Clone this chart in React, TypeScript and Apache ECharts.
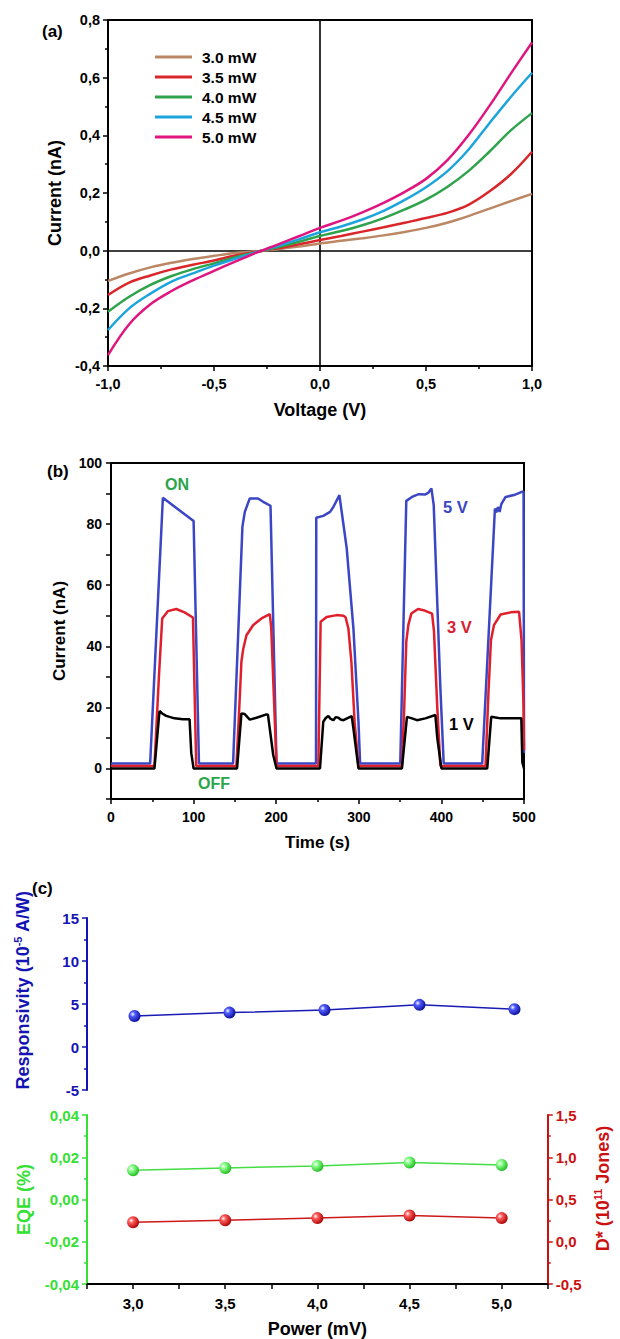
import React, { useEffect, useRef } from "react";
import * as echarts from "echarts";

const FONT = "Liberation Sans, Arial, Helvetica, sans-serif";

// ---------- Panel (a): I-V curves ----------
const voltage = [-1.0, -0.9, -0.8, -0.7, -0.6, -0.5, -0.4, -0.3, -0.2, -0.1, 0.0, 0.1, 0.2, 0.3, 0.4, 0.5, 0.6, 0.7, 0.8, 0.9, 1.0];
const ivNames = ["3.0 mW", "3.5 mW", "4.0 mW", "4.5 mW", "5.0 mW"];
const ivColors = ["#bb8765", "#d9262b", "#2fa24c", "#1ea4dc", "#e0157f"];
const iv30 = [-0.105, -0.079, -0.058, -0.042, -0.029, -0.018, -0.008, -0.002, 0.005, 0.014, 0.025, 0.034, 0.043, 0.053, 0.065, 0.079, 0.097, 0.12, 0.146, 0.172, 0.197];
const iv35 = [-0.154, -0.111, -0.086, -0.065, -0.049, -0.034, -0.017, -0.004, 0.008, 0.022, 0.037, 0.051, 0.066, 0.081, 0.097, 0.113, 0.131, 0.159, 0.206, 0.265, 0.343];
const iv40 = [-0.212, -0.16, -0.119, -0.088, -0.064, -0.044, -0.023, -0.005, 0.012, 0.031, 0.051, 0.068, 0.088, 0.113, 0.143, 0.177, 0.221, 0.276, 0.344, 0.417, 0.477];
const iv45 = [-0.275, -0.2, -0.149, -0.107, -0.079, -0.052, -0.028, -0.005, 0.016, 0.039, 0.064, 0.084, 0.108, 0.138, 0.176, 0.22, 0.275, 0.35, 0.443, 0.533, 0.617];
const iv50 = [-0.362, -0.255, -0.186, -0.14, -0.103, -0.07, -0.038, -0.007, 0.021, 0.05, 0.079, 0.104, 0.133, 0.166, 0.204, 0.249, 0.313, 0.4, 0.503, 0.614, 0.722];
const ivSeries = [iv30, iv35, iv40, iv45, iv50];

// ---------- Panel (b): transient response [time s, current nA] ----------
const curve5V = [
  [0, 1.6], [47.4, 1.6], [62.8, 88.6], [100, 81.0], [106.5, 1.6],
  [147.8, 1.6], [159.1, 79.1], [162, 84], [168, 88.4], [178, 88.4], [184.2, 87.3], [193.1, 86.0], [200.4, 1.6],
  [248.2, 1.6], [248.5, 82.1], [257, 82.7], [265.2, 84.0], [269.2, 85.6], [276.5, 89.5], [285.4, 72.0], [293.5, 45.8], [299.6, 15.3], [301.6, 1.6],
  [350.2, 1.6], [357.5, 87.6], [364.4, 88.9], [372.5, 89.8], [380.6, 89.7], [384, 90.2], [387.9, 91.7], [390.7, 86.2], [398.8, 26], [402.8, 1.6],
  [449.4, 1.6], [464.8, 85.1], [466.5, 83.8], [468.5, 85.6], [470.5, 84.0], [472.5, 86.5], [477.7, 88.9], [487.9, 89.5], [498, 90.6], [499.5, 90.6], [500, 5]
];
const curve3V = [
  [0, 0.8], [52.6, 0.8], [58, 30], [62, 49.1], [68.8, 51.5], [79, 52.2], [89, 51.1], [99.2, 49.4], [103.2, 0.8],
  [151.8, 0.8], [155, 18], [157.9, 35], [160, 39], [164, 43.6], [172, 46.9], [182.2, 49.1], [192.3, 50.5], [194, 46], [200.4, 0.8],
  [251, 0.8], [253.8, 48.0], [261.1, 49.6], [273.3, 50.2], [281.4, 50.0], [284, 49.5], [287.4, 45.8], [291, 35], [295, 15], [299.6, 0.8],
  [352.2, 0.8], [355, 20], [357.5, 41.5], [360, 47], [363.6, 50.7], [371.7, 52.2], [379.8, 51.7], [388.7, 50.7], [391, 45], [395, 20], [398.8, 0.8],
  [453.4, 0.8], [457, 25], [460, 42], [463.6, 46.9], [471.7, 50.4], [483.8, 51.1], [494, 51.3], [497, 42], [499.5, 20], [500, 6]
];
const curve1V = [
  [0, 0], [52.6, 0], [58.7, 18.8], [62, 18], [66.8, 17.2], [76.9, 16.4], [87, 16.1], [95.1, 16.1], [97.2, 5], [100, 0],
  [152.6, 0], [157.9, 18.0], [161.9, 17.8], [168, 16.0], [176.1, 16.6], [188.3, 17.7], [190, 17.6], [196.4, 4.4], [200.4, 0],
  [253, 0], [257, 15.3], [260, 16.5], [263.2, 17.2], [266, 16.2], [269.2, 15.8], [272, 16.8], [275.3, 16.6], [278, 16], [281.4, 15.8], [291.5, 17.1], [294, 12], [299.6, 0],
  [352.2, 0], [358.3, 16.9], [364.4, 16.4], [370.4, 15.8], [380.6, 16.4], [392.7, 17.5], [395, 10], [400, 0],
  [455.5, 0], [460.3, 16.9], [465.6, 16.7], [471.7, 16.4], [484, 16.4], [496.8, 16.4], [498, 2], [500, 0]
];

// ---------- Panel (c): figures of merit ----------
const power = [3.0, 3.5, 4.0, 4.5, 5.0];
const responsivity = [3.6, 4.0, 4.3, 4.9, 4.4];
const eqe = [0.0138, 0.0149, 0.0159, 0.0175, 0.0163];
const detectivity = [0.23, 0.254, 0.28, 0.31, 0.28];

const comma = (d: number) => (v: number) => v.toFixed(d).replace(".", ",");

function baseAxis(color: string, tick = 14, title = 17) {
  return {
    axisLine: { show: true, onZero: false, lineStyle: { color, width: 2 } },
    axisTick: { show: true, length: 5, lineStyle: { color, width: 1.5 } },
    minorTick: { show: true, splitNumber: 2, length: 3, lineStyle: { color, width: 1.5 } },
    splitLine: { show: false },
    minorSplitLine: { show: false },
    axisLabel: { fontFamily: FONT, fontWeight: "bold", fontSize: tick, color, margin: 8 },
    nameLocation: "middle",
    nameTextStyle: { fontFamily: FONT, fontWeight: "bold", fontSize: title, color },
  } as any;
}

function sphere(light: string, dark: string) {
  return new echarts.graphic.RadialGradient(0.35, 0.35, 0.7, [
    { offset: 0, color: "#ffffff" },
    { offset: 0.3, color: light },
    { offset: 1, color: dark },
  ]);
}

export default function App() {
  const ref = useRef<HTMLDivElement>(null);
  useEffect(() => {
    if (!ref.current) return;
    const chart = echarts.init(ref.current, null, { renderer: "svg" });

    const lbl = (text: string, x: number, y: number, fill: string, size = 16) => ({
      type: "text",
      x,
      y,
      style: { text, fill, font: `bold ${size}px ${FONT}`, align: "left", verticalAlign: "middle" },
    });

    const A = baseAxis("#000", 14.5, 18);
    const B = baseAxis("#000", 14, 17);
    const C = baseAxis("#000", 15, 18);
    const CB = baseAxis("#1414b4", 15, 18);
    const CG = baseAxis("#33e033", 15, 18);
    const CR = baseAxis("#cc1111", 15, 18);

    const option: any = {
      animation: false,
      backgroundColor: "#ffffff",
      grid: [
        { left: 108, top: 20, width: 424, height: 346, show: true, borderColor: "#000", borderWidth: 2 },
        { left: 111, top: 463, width: 413, height: 336, show: true, borderColor: "#000", borderWidth: 2 },
        { left: 87, top: 918, width: 475, height: 172 },
        { left: 87, top: 1115, width: 475, height: 171 },
      ],
      legend: {
        data: ivNames,
        orient: "vertical",
        left: 150,
        top: 44,
        itemWidth: 37,
        itemHeight: 3,
        itemGap: 4,
        icon: "rect",
        textStyle: { fontFamily: FONT, fontWeight: "bold", fontSize: 15.5, color: "#000", padding: [0, 0, 0, 5] },
      },
      xAxis: [
        {
          ...A, gridIndex: 0, type: "value", min: -1, max: 1, interval: 0.5,
          axisLabel: { ...A.axisLabel, margin: 10, formatter: comma(1) },
          name: "Voltage (V)", nameGap: 35,
        },
        {
          ...B, gridIndex: 1, type: "value", min: 0, max: 500, interval: 100,
          axisLabel: { ...B.axisLabel, margin: 11 },
          name: "Time (s)", nameGap: 35,
        },
        { gridIndex: 2, type: "value", min: 2.75, max: 5.25, show: false },
        {
          ...C, gridIndex: 3, type: "value", min: 2.75, max: 5.25, interval: 0.25,
          minorTick: { show: false },
          axisLabel: {
            ...C.axisLabel, margin: 12,
            formatter: (v: number) => (Math.abs(v * 2 - Math.round(v * 2)) < 1e-6 ? comma(1)(v) : ""),
          },
          name: "Power (mV)", nameGap: 36,
        },
      ],
      yAxis: [
        {
          ...A, gridIndex: 0, type: "value", min: -0.4, max: 0.8, interval: 0.2,
          axisLabel: { ...A.axisLabel, formatter: comma(1) },
          name: "Current (nA)", nameGap: 43, nameRotate: 90,
        },
        {
          ...B, gridIndex: 1, type: "value", min: -10, max: 100, interval: 10,
          minorTick: { show: false },
          axisLabel: { ...B.axisLabel, margin: 9, formatter: (v: number) => (Math.round(v) % 20 === 0 ? String(Math.round(v)) : "") },
          name: "Current (nA)", nameGap: 41, nameRotate: 90,
        },
        {
          ...CB, gridIndex: 2, type: "value", min: -5, max: 15, interval: 5,
          name: "Responsivity (10{sup|-5} A/W)", nameGap: 54, nameRotate: 90,
          nameTextStyle: {
            ...CB.nameTextStyle, padding: [0, 0, 0, 28],
            rich: { sup: { fontFamily: FONT, fontWeight: "bold", fontSize: 11, color: "#1414b4", verticalAlign: "bottom", padding: [0, 0, 10, 0] } },
          },
        },
        {
          ...CG, gridIndex: 3, type: "value", min: -0.04, max: 0.04, interval: 0.02,
          axisLabel: { ...CG.axisLabel, formatter: comma(2) },
          name: "EQE (%)", nameGap: 54, nameRotate: 90,
        },
        {
          ...CR, gridIndex: 3, type: "value", position: "right", min: -0.5, max: 1.5, interval: 0.5,
          axisLabel: { ...CR.axisLabel, formatter: comma(1) },
          name: "D* (10{sup|11} Jones)", nameGap: 38, nameRotate: 90,
          nameTextStyle: {
            ...CR.nameTextStyle, padding: [0, 0, 0, 22],
            rich: { sup: { fontFamily: FONT, fontWeight: "bold", fontSize: 11, color: "#cc1111", verticalAlign: "bottom", padding: [0, 0, 10, 0] } },
          },
        },
      ],
      series: [
        ...ivSeries.map((arr, k) => ({
          type: "line",
          name: ivNames[k],
          xAxisIndex: 0,
          yAxisIndex: 0,
          data: voltage.map((v, i) => [v, arr[i]]),
          smooth: 0.35,
          symbol: "none",
          lineStyle: { width: 2.5, color: ivColors[k] },
          itemStyle: { color: ivColors[k] },
          z: 3,
          ...(k === 0
            ? {
                markLine: {
                  silent: true,
                  symbol: "none",
                  label: { show: false },
                  lineStyle: { color: "#000", width: 1.6, type: "solid" },
                  data: [{ xAxis: 0 }, { yAxis: 0 }],
                  z: 1,
                },
              }
            : {}),
        })),
        { type: "line", name: "5 V", xAxisIndex: 1, yAxisIndex: 1, data: curve5V, symbol: "none", lineStyle: { width: 2.5, color: "#3b46c4" } },
        { type: "line", name: "3 V", xAxisIndex: 1, yAxisIndex: 1, data: curve3V, symbol: "none", lineStyle: { width: 2.5, color: "#e01f2d" } },
        { type: "line", name: "1 V", xAxisIndex: 1, yAxisIndex: 1, data: curve1V, symbol: "none", lineStyle: { width: 2.5, color: "#000" } },
        {
          type: "line", name: "Responsivity", xAxisIndex: 2, yAxisIndex: 2,
          data: power.map((p, i) => [p, responsivity[i]]),
          symbol: "circle", symbolSize: 12,
          lineStyle: { width: 1.5, color: "#1a1ab4" },
          itemStyle: { color: sphere("#4f5cff", "#0a0a90") },
        },
        {
          type: "line", name: "EQE", xAxisIndex: 3, yAxisIndex: 3,
          data: power.map((p, i) => [p, eqe[i]]),
          symbol: "circle", symbolSize: 12,
          lineStyle: { width: 1.5, color: "#44dd44" },
          itemStyle: { color: sphere("#8cff8c", "#1cb81c") },
        },
        {
          type: "line", name: "D*", xAxisIndex: 3, yAxisIndex: 4,
          data: power.map((p, i) => [p, detectivity[i]]),
          symbol: "circle", symbolSize: 12,
          lineStyle: { width: 1.5, color: "#cc1a1a" },
          itemStyle: { color: sphere("#ff5a5a", "#a80000") },
        },
      ],
      graphic: [
        lbl("(a)", 42, 31, "#000", 17),
        lbl("(b)", 47, 471, "#000", 17),
        lbl("(c)", 32, 888, "#000", 17),
        lbl("ON", 165, 484, "#2aa64a", 16),
        lbl("OFF", 198, 783, "#2aa64a", 16),
        lbl("5 V", 443, 507, "#3b46c4", 16.5),
        lbl("3 V", 447, 627, "#d92030", 16.5),
        lbl("1 V", 449, 724, "#000", 16.5),
      ],
    };

    chart.setOption(option);
    return () => chart.dispose();
  }, []);

  return <div ref={ref} style={{ position: "fixed", left: 0, top: 0, width: 620, height: 1339, background: "#fff" }} />;
}
